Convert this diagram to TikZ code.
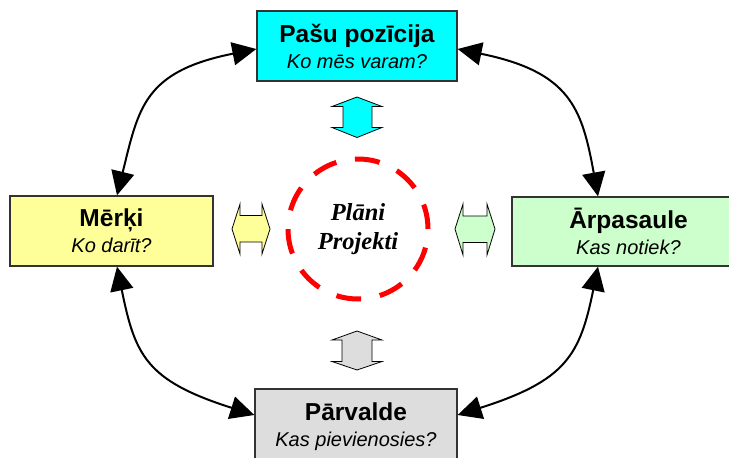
\documentclass[tikz,border=0pt]{standalone}
\usepackage{fontspec}
\newfontfamily\sansf{Liberation Sans}
\newfontfamily\seriff{Liberation Serif}
\usetikzlibrary{arrows.meta}
\definecolor{boxcyan}{RGB}{0,255,255}
\definecolor{boxyellow}{RGB}{255,255,153}
\definecolor{boxgreen}{RGB}{204,255,204}
\definecolor{boxgray}{RGB}{221,221,221}
\begin{document}
\begin{tikzpicture}[x=1pt,y=-1pt,
  box/.style={draw=black!80, line width=1.3pt, rectangle, inner sep=0pt, align=center,
    font=\sansf\fontsize{20}{26}\selectfont},
  conn/.style={line width=2pt, <->, >={Triangle[length=24pt,width=23pt]}},
  darr/.style={draw=black, line width=0.8pt, line join=miter},
  plan/.style={circle, draw=red, line width=5pt, dash pattern=on 25pt off 19pt,
    minimum size=140pt, inner sep=0pt, align=center,
    font=\seriff\bfseries\itshape\fontsize{24.5}{29}\selectfont}]
\useasboundingbox (0,0) rectangle (729,458);

% boxes
\node[box, fill=boxcyan, minimum width=200pt, minimum height=70pt] (nTop) at (357,46)
  {{\bfseries\fontsize{24.5}{26}\selectfont Pašu pozīcija}\\{\itshape Ko mēs varam?}};
\node[box, fill=boxyellow, minimum width=203pt, minimum height=70pt] (nLeft) at (111.5,231)
  {{\bfseries\fontsize{24.5}{26}\selectfont Mērķi}\\{\itshape Ko darīt?}};
\node[box, fill=boxgreen, minimum width=233pt, minimum height=69pt] (nRight) at (628.5,231.5)
  {{\bfseries\fontsize{24.5}{26}\selectfont Ārpasaule}\\{\itshape Kas notiek?}};
\node[box, fill=boxgray, minimum width=202pt, minimum height=76pt] (nBot) at (356,427)
  {{\bfseries\fontsize{24.5}{26}\selectfont Pārvalde}\\{\itshape Kas pievienosies?}};

% centre
\node[plan] (nPlan) at (358,229) {Plāni\\Projekti};

% double arrows
\draw[darr, fill=boxcyan] (357,97) -- (382,106.5) -- (372,106.5) -- (372,127.5) -- (382,127.5)
  -- (357,137.5) -- (332,127.5) -- (343,127.5) -- (343,106.5) -- (332,106.5) -- cycle;
\draw[darr, fill=boxgray] (357,331) -- (382,340) -- (372,340) -- (372,361.5) -- (382,361.5)
  -- (357,370) -- (332,361.5) -- (342,361.5) -- (342,340) -- (332,340) -- cycle;
\draw[darr, fill=boxyellow] (232,229) -- (240,204) -- (240,215.5) -- (262,215.5) -- (262,204)
  -- (270,229) -- (262,254) -- (262,242) -- (240,242) -- (240,254) -- cycle;
\draw[darr, fill=boxgreen] (455,229) -- (463,204) -- (463,216) -- (487,216) -- (487,204)
  -- (495,229) -- (487,255) -- (487,242.5) -- (463,242.5) -- (463,255) -- cycle;

% curved connectors
\draw[conn] ([yshift=-3pt]nTop.west) .. controls +(-112.7,22.5) and +(21.6,-87.3) .. ([xshift=5.5pt]nLeft.north);
\draw[conn] ([yshift=-3pt]nTop.east) .. controls +(112.7,23) and +(-16,-88) .. ([xshift=-30.5pt]nRight.north);
\draw[conn] ([xshift=-30.5pt]nRight.south) .. controls +(-18,88) and +(109,-34.5) .. ([yshift=12pt]nBot.east);
\draw[conn] ([xshift=5.5pt]nLeft.south) .. controls +(18,88) and +(-109,-34.5) .. ([yshift=12pt]nBot.west);
\end{tikzpicture}
\end{document}
